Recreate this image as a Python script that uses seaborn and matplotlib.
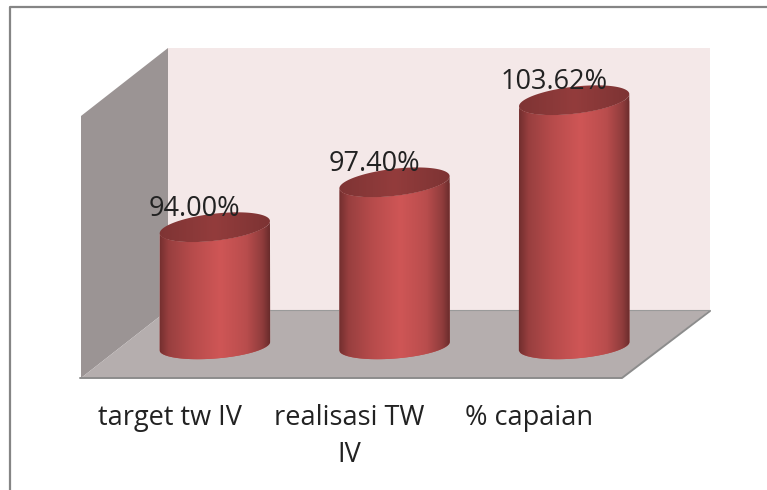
import numpy as np
import pandas as pd
import seaborn as sns
import matplotlib.pyplot as plt
from matplotlib.colors import LinearSegmentedColormap
from matplotlib.lines import Line2D
from matplotlib.patches import Polygon
from matplotlib.path import Path
from matplotlib.transforms import IdentityTransform, ScaledTranslation

categories = ['target tw IV', 'realisasi TW\nIV', '% capaian']
values = [94.00, 97.40, 103.62]
value_labels = ['94.00%', '97.40%', '103.62%']

W, H = 767, 490
BASE_VALUE = 85
PX_PER_UNIT = 13.2
TOP_TILT = np.radians(6.7)
BASE_TILT = np.radians(4.5)
ELL_A, ELL_B = 55.5, 13.5
BASE_B = 12.5
FONT_SIZE = 19.5

body_cmap = LinearSegmentedColormap.from_list('body', [
    (0.0, '#6b2b2b'), (0.1, '#983f3f'), (0.3, '#b64b4b'), (0.55, '#cf5656'),
    (0.78, '#b94d4d'), (0.92, '#8f3c3c'), (1.0, '#5f2727')])
top_cmap = LinearSegmentedColormap.from_list('top', [
    (0.0, '#7e3434'), (0.5, '#933c3c'), (1.0, '#7c3333')])

sns.set_theme(style='white')
plt.rcParams['font.family'] = ['Open Sans', 'DejaVu Sans']

fig = plt.figure(figsize=(W / 100, H / 100), dpi=100, facecolor='white')


def px(x, y):
    return (x, H - y)


# frame and 3d walls, in image pixels
bg = fig.add_axes([0, 0, 1, 1])
bg.set_xlim(0, W)
bg.set_ylim(0, H)
bg.axis('off')
bg.add_patch(Polygon([px(81, 116), px(168, 48), px(168, 310), px(81, 378)], fc='#9b9494', ec='none'))
bg.add_patch(Polygon([px(168, 48), px(710, 48), px(710, 310), px(168, 310)], fc='#f4e8e8', ec='none'))
bg.add_patch(Polygon([px(81, 378), px(168, 310), px(710, 310), px(622, 378)], fc='#b5aeae', ec='none'))
bg.add_line(Line2D(*zip(px(80, 378), px(622, 378), px(710, 311)), color='#8c8c8c', lw=1.4))
bg.add_line(Line2D(*zip(px(168, 310), px(710, 310)), color='#9a9a9a', lw=0.8))
bg.add_line(Line2D(*zip(px(10, H), px(10, 7), px(W, 7)), color='#858585', lw=1.6))

# bars
ax = fig.add_axes([125 / W, (H - 378) / H, 539 / W, 330 / H])
ax.patch.set_alpha(0)
df = pd.DataFrame({'categoria': categories, 'valor': values})
sns.barplot(data=df, x='categoria', y='valor', order=categories, width=0.618,
            color='#c0504d', saturation=1, ax=ax)
ax.set_xlim(-0.5, 2.5)
ax.set_ylim(BASE_VALUE - 32 / PX_PER_UNIT, BASE_VALUE + 298 / PX_PER_UNIT)
ax.set(xlabel='', ylabel='', yticks=[])
sns.despine(ax=ax, left=True, bottom=True)
ax.tick_params(axis='x', length=0, pad=19, labelsize=FONT_SIZE, labelcolor='#222222')
shift = ScaledTranslation(-45 / 100, 0, fig.dpi_scale_trans)
for lab in ax.get_xticklabels():
    lab.set_transform(lab.get_transform() + shift)
    lab.set_linespacing(1.43)


def ellipse_pts(cx, cy, t, b, tilt):
    x = cx + ELL_A * np.cos(t) * np.cos(tilt) - b * np.sin(t) * np.sin(tilt)
    y = cy + ELL_A * np.cos(t) * np.sin(tilt) + b * np.sin(t) * np.cos(tilt)
    return np.column_stack([x, y])


def gradient(cmap, path, xc, half, y0, y1, z):
    im = ax.imshow(np.linspace(0, 1, 256)[None, :], cmap=cmap, aspect='auto',
                   extent=(xc - half, xc + half, y0, y1), zorder=z)
    im.set_clip_path(path, IdentityTransform())


half = 0.32
for i, (bar, val) in enumerate(zip(ax.patches, values)):
    cx, top_y = ax.transData.transform((i, val))
    _, base_y = ax.transData.transform((i, BASE_VALUE))
    low = ellipse_pts(cx, base_y, np.linspace(np.pi, 2 * np.pi, 80), BASE_B, BASE_TILT)
    up = ellipse_pts(cx, top_y, np.linspace(2 * np.pi, np.pi, 80), ELL_B, TOP_TILT)
    body = Path(np.vstack([low, up, low[:1]]), closed=True)
    cap = Path(ellipse_pts(cx, top_y, np.linspace(0, 2 * np.pi, 120), ELL_B, TOP_TILT), closed=True)
    bar.set_clip_path(body, IdentityTransform())
    gradient(body_cmap, body, i, half, ax.get_ylim()[0], val + 2, 3)
    gradient(top_cmap, cap, i, half, val - 2, val + 2, 4)
    ax.annotate(value_labels[i], xy=(i, val), xytext=(-20 * 0.72, 18.5 * 0.72),
                textcoords='offset points', ha='center', va='center',
                fontsize=FONT_SIZE, color='#222222', zorder=6, annotation_clip=False)

ax.set_xlim(-0.5, 2.5)
ax.set_ylim(BASE_VALUE - 32 / PX_PER_UNIT, BASE_VALUE + 298 / PX_PER_UNIT)

fig.savefig('out.png', dpi=100)
